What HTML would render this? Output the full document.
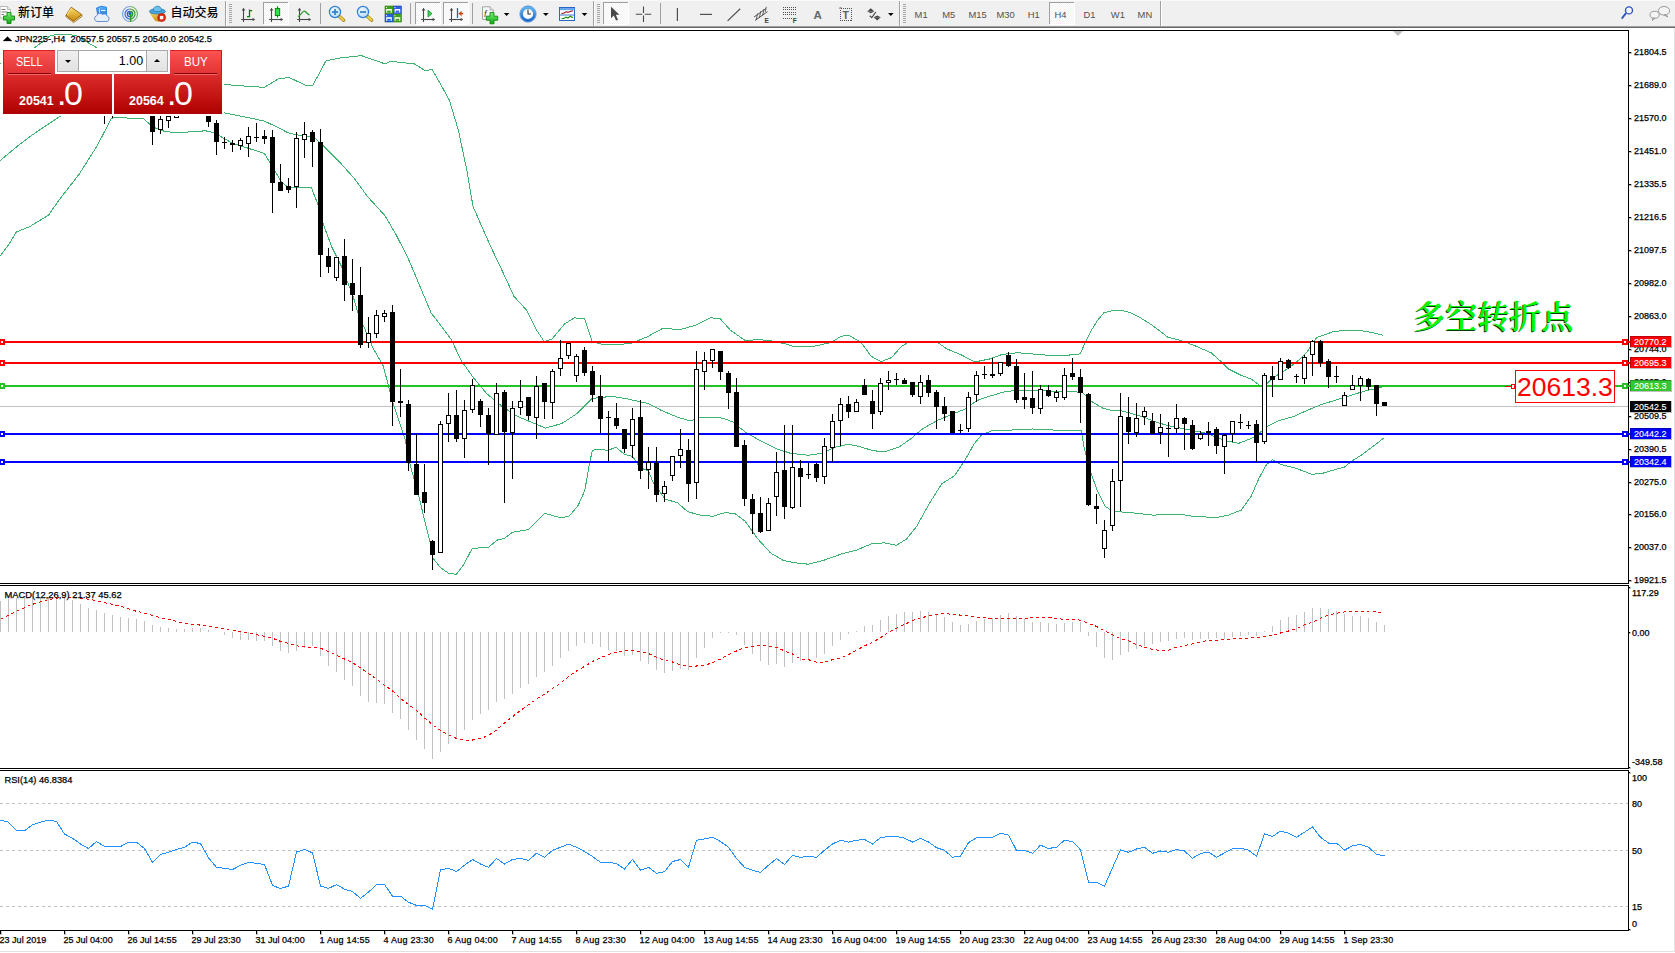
<!DOCTYPE html>
<html><head><meta charset="utf-8"><title>JPN225 H4</title>
<style>
html,body{margin:0;padding:0;background:#fff;}
body{width:1675px;height:953px;position:relative;overflow:hidden;font-family:"Liberation Sans","Noto Sans CJK SC",sans-serif;}
#tb{position:absolute;left:0;top:0;width:1675px;height:26px;background:#f0f0f0;border-bottom:1px solid #a0a0a0;box-shadow:0 1px 0 #696969;}
#tb2{position:absolute;left:0;top:28px;width:1675px;height:2px;background:#fff;}
#edge-r{position:absolute;left:1674px;top:28px;width:1px;height:924px;background:#e2e2e2;}
#edge-b{position:absolute;left:0;top:951px;width:1675px;height:1px;background:#e2e2e2;}
#tb{font-family:"Liberation Sans","Noto Sans CJK SC",sans-serif;}
#tb svg text{font-family:"Liberation Sans","Noto Sans CJK SC",sans-serif;}

#oct{position:absolute;left:3px;top:50px;width:219px;height:64px;font-family:"Liberation Sans",sans-serif;}
#oct .wbg{position:absolute;left:-2px;top:-2px;width:223px;height:68px;background:#fff;}
#oct .pb{position:absolute;top:24px;height:40px;background:linear-gradient(#dc2c2c,#c41414 55%,#ae0000);}
#oct .sellp{left:0;width:109px;}
#oct .buyp{left:111px;width:108px;}
#oct .bt{position:absolute;top:0;height:25px;width:52px;background:linear-gradient(#fb5252,#e03232);box-sizing:border-box;border-top:1px solid #d82020;color:#fff;font-size:12.5px;text-align:center;line-height:23px;}
#oct .sellb{left:0;border-left:1px solid #d01818;}
#oct .buyb{left:167px;border-right:1px solid #d01818;}
#oct .bt i{position:absolute;left:4px;right:4px;top:22px;height:1px;background:#8a0000;box-shadow:0 1px 0 #f06a6a;}
#oct .gapw{position:absolute;left:52px;top:0;width:115px;height:24px;background:#fff;}
#oct .gapv{position:absolute;left:109px;top:24px;width:2px;height:40px;background:#fff;}
#oct .bt span{display:inline-block;transform-origin:50% 50%;}
#oct .sellb span{transform:scaleX(.87);}
#oct .buyb span{transform:scaleX(.93);}
#oct .vol{position:absolute;left:54px;top:0;width:111px;height:22px;box-sizing:border-box;border:1px solid #a9a9a9;background:#fff;}
#oct .va{position:absolute;top:0;width:20px;height:20px;background:linear-gradient(#f0f0f0,#e2e2e2);}
#oct .va.l{left:0;border-right:1px solid #a9a9a9;}
#oct .va.r{right:0;border-left:1px solid #a9a9a9;}
#oct .va b{position:absolute;left:7px;width:0;height:0;border-left:3px solid transparent;border-right:3px solid transparent;}
#oct .va b.dn{top:9px;border-top:3px solid #000;}
#oct .va b.up{top:8px;border-bottom:3px solid #000;}
#oct .vi{position:absolute;left:21px;right:23.8px;top:0;height:20px;line-height:21px;text-align:right;font-size:12.5px;color:#000;}
#oct .pr{position:absolute;top:24px;height:40px;color:#fff;white-space:nowrap;}
#oct .pr span{position:absolute;bottom:0;}
#oct .pr .s{left:0;font-weight:bold;font-size:12.5px;bottom:6px;}
#oct .pr .d{left:38px;font-size:34px;bottom:1px;}
#oct .pr .g{left:45px;font-size:34px;bottom:1px;}

</style></head><body>
<div id="tb"><svg width="1675" height="27" viewBox="0 0 1675 27" style="position:absolute;left:0;top:0">
<defs>
<pattern id="chk" width="2" height="2" patternUnits="userSpaceOnUse"><rect width="2" height="2" fill="#f4f4f4"/><rect width="1" height="1" fill="#fff"/><rect x="1" y="1" width="1" height="1" fill="#fff"/></pattern>
<linearGradient id="gy" x1="0" y1="0" x2="0" y2="1"><stop offset="0" stop-color="#f7dc6a"/><stop offset="1" stop-color="#c98a10"/></linearGradient>
<linearGradient id="gg" x1="0" y1="0" x2="0" y2="1"><stop offset="0" stop-color="#7af07a"/><stop offset="1" stop-color="#12a812"/></linearGradient>
<linearGradient id="gb" x1="0" y1="0" x2="0" y2="1"><stop offset="0" stop-color="#5ab4f4"/><stop offset="1" stop-color="#1c6cd0"/></linearGradient>
<radialGradient id="lens" cx="0.4" cy="0.35" r="0.7"><stop offset="0" stop-color="#f2faff"/><stop offset="1" stop-color="#b4d8f4"/></radialGradient>
</defs>
<rect x="0" y="0" width="1675" height="1" fill="#fafafa"/>
<path d="M0 6.5H7.5L10.5 9.5V18H0z" fill="#fff" stroke="#b8b8b8" stroke-width="1"/>
<path d="M7.5 6.5V9.5H10.5" fill="#e8e8e8" stroke="#b0b0b0" stroke-width=".8"/>
<path d="M1.5 9.5H5.5M1.5 12H7.5M1.5 14.5H4" stroke="#808080" stroke-width="1.1"/>
<path d="M7 12.5h4v3.5h3.5v4h-3.5v3.5h-4v-3.5h-3.5v-4h3.5z" fill="url(#gg)" stroke="#0a8a0a" stroke-width=".9"/>
<text x="18" y="17" font-size="12px" font-weight="500" fill="#000">新订单</text>
<path d="M66 15.2L73.4 21L81.8 14.6L82 16.4L73.6 22.6L65.8 16.6z" fill="#f1e4b0" stroke="#9a6408" stroke-width=".8"/>
<path d="M71.2 7.2L81.8 14.6L73.4 21L66 15.2z" fill="url(#gy)" stroke="#9a6408" stroke-width=".9"/>
<path d="M71.4 8.4L69 11.6L67.2 15" stroke="#fff1a8" stroke-width="1" fill="none" opacity=".8"/>
<path d="M96.5 8L101 6.2L106.5 7.2V17H98z" fill="url(#gb)" stroke="#1a78e0" stroke-width=".8"/>
<path d="M99.5 8.5V17" stroke="#bfe4ff" stroke-width="1"/><path d="M101 10.5H105.5" stroke="#e8f6ff" stroke-width="1.2"/>
<path d="M97 21.5a3 3 0 0 1 -.4 -5.8a3.6 3.6 0 0 1 6 -1.3a3 3 0 0 1 4.6 1.6a2.9 2.9 0 0 1 -.2 5.5z" fill="#e6eef8" stroke="#5a86c6" stroke-width=".9"/>
<g fill="none" stroke-width="1.2"><path d="M130 6.5a7.5 7.5 0 0 0 0 15" stroke="#5a8ae0" opacity=".75"/><path d="M130 6.5a7.5 7.5 0 0 1 0 15" stroke="#4aa44a" opacity=".75"/>
<path d="M130 9a5 5 0 0 0 0 10" stroke="#3c70d8"/><path d="M130 9a5 5 0 0 1 0 10" stroke="#3c9c3c"/>
<path d="M130 11.3a2.7 2.7 0 0 0 0 5.4" stroke="#2c5cd0"/><path d="M130 11.3a2.7 2.7 0 0 1 0 5.4" stroke="#2c8c2c"/></g>
<circle cx="130" cy="13.6" r="1.6" fill="#2a56cc"/><path d="M130.6 14V21.5" stroke="#22a022" stroke-width="1.6"/>
<path d="M150.2 12.6L164.6 12.6L159 21.4L155.2 20.6z" fill="url(#gy)" stroke="#d4a418" stroke-width=".7"/>
<ellipse cx="157.4" cy="11.4" rx="8" ry="2.7" fill="#4aa4dc" stroke="#2a7eb8" stroke-width=".8"/>
<path d="M153.2 10.8C153.4 7.6 155 6.2 157.4 6.2S161.4 7.6 161.6 10.8C160 11.8 154.8 11.8 153.2 10.8z" fill="#6cc0ec" stroke="#2a7eb8" stroke-width=".8"/>
<circle cx="161.6" cy="17.6" r="4" fill="#e02810" stroke="#b01c08" stroke-width=".6"/><rect x="159.9" y="15.9" width="3.4" height="3.4" fill="#fff"/>
<text x="170.5" y="17" font-size="12px" font-weight="500" fill="#000">自动交易</text>
<rect x="225" y="1" width="1" height="25" fill="#a0a0a0" shape-rendering="crispEdges"/>
<rect x="226" y="1" width="1" height="25" fill="#fff" shape-rendering="crispEdges"/>
<rect x="229" y="4" width="3" height="1" fill="#a8a8a8" shape-rendering="crispEdges"/>
<rect x="229" y="6" width="3" height="1" fill="#a8a8a8" shape-rendering="crispEdges"/>
<rect x="229" y="8" width="3" height="1" fill="#a8a8a8" shape-rendering="crispEdges"/>
<rect x="229" y="10" width="3" height="1" fill="#a8a8a8" shape-rendering="crispEdges"/>
<rect x="229" y="12" width="3" height="1" fill="#a8a8a8" shape-rendering="crispEdges"/>
<rect x="229" y="14" width="3" height="1" fill="#a8a8a8" shape-rendering="crispEdges"/>
<rect x="229" y="16" width="3" height="1" fill="#a8a8a8" shape-rendering="crispEdges"/>
<rect x="229" y="18" width="3" height="1" fill="#a8a8a8" shape-rendering="crispEdges"/>
<rect x="229" y="20" width="3" height="1" fill="#a8a8a8" shape-rendering="crispEdges"/>
<rect x="229" y="22" width="3" height="1" fill="#a8a8a8" shape-rendering="crispEdges"/>
<g stroke="#484848" stroke-width="1.1" fill="#484848"><path d="M243.5 9V22" fill="none"/><path d="M241.2 19.5H253" fill="none"/><path d="M243.5 7.8l-1.8 2.6h3.6z" stroke="none"/><path d="M255.2 19.5l-2.6 -1.8v3.6z" stroke="none"/></g>
<path d="M249.5 9.5V17.2M249.5 10.7H252.2M247 16.6H249.5" stroke="#008000" stroke-width="1.3" fill="none"/>
<rect x="263" y="2" width="25" height="22" fill="url(#chk)" shape-rendering="crispEdges"/>
<path d="M263.5 24V2.5H288" fill="none" stroke="#a0a0a0" shape-rendering="crispEdges"/>
<path d="M263.5 24.5H288.5V2" fill="none" stroke="#fff" shape-rendering="crispEdges"/>
<g stroke="#484848" stroke-width="1.1" fill="#484848"><path d="M271.5 9V22" fill="none"/><path d="M269.2 19.5H281" fill="none"/><path d="M271.5 7.8l-1.8 2.6h3.6z" stroke="none"/><path d="M283.2 19.5l-2.6 -1.8v3.6z" stroke="none"/></g>
<path d="M277.5 6.3V17.6" stroke="#008000" stroke-width="1.1"/><rect x="275.3" y="8.6" width="4.4" height="7" fill="#30e050" stroke="#008000" stroke-width=".9"/>
<g stroke="#484848" stroke-width="1.1" fill="#484848"><path d="M299.5 9V22" fill="none"/><path d="M297.2 19.5H309" fill="none"/><path d="M299.5 7.8l-1.8 2.6h3.6z" stroke="none"/><path d="M311.2 19.5l-2.6 -1.8v3.6z" stroke="none"/></g>
<path d="M298 16.8C300.5 15.5 302.5 11 304.3 11.2S307.5 14.5 309.6 15" stroke="#2a982a" stroke-width="1.2" fill="none"/>
<rect x="320" y="3" width="1" height="21" fill="#a0a0a0" shape-rendering="crispEdges"/>
<path d="M339 16l4.7 4.2" stroke="#b08a10" stroke-width="3.4" stroke-linecap="round"/><path d="M339 16l4.5 4" stroke="#ecd24a" stroke-width="1.8" stroke-linecap="round"/>
<circle cx="335" cy="12" r="5.6" fill="url(#lens)" stroke="#2f80d8" stroke-width="1.2"/>
<path d="M332 12h6" stroke="#3a84c4" stroke-width="1.8"/>
<path d="M335 9v6" stroke="#3a84c4" stroke-width="1.8"/>
<path d="M367 16l4.7 4.2" stroke="#b08a10" stroke-width="3.4" stroke-linecap="round"/><path d="M367 16l4.5 4" stroke="#ecd24a" stroke-width="1.8" stroke-linecap="round"/>
<circle cx="363" cy="12" r="5.6" fill="url(#lens)" stroke="#2f80d8" stroke-width="1.2"/>
<path d="M360 12h6" stroke="#3a84c4" stroke-width="1.8"/>
<rect x="385" y="6" width="8" height="7.8" fill="#3fa020" stroke="#2c8410" stroke-width=".6"/>
<rect x="386.2" y="9" width="5.6" height="3.6" fill="#fff"/><rect x="387.2" y="10.6" width="3.6" height="2" fill="#3fa020"/><rect x="386" y="7" width="1" height="1" fill="#fff"/>
<rect x="393.4" y="6" width="8" height="7.8" fill="#2a60d8" stroke="#1844b8" stroke-width=".6"/>
<rect x="394.59999999999997" y="9" width="5.6" height="3.6" fill="#fff"/><rect x="395.59999999999997" y="10.6" width="3.6" height="2" fill="#2a60d8"/><rect x="394.4" y="7" width="1" height="1" fill="#fff"/>
<rect x="385" y="14.2" width="8" height="7.8" fill="#2a60d8" stroke="#1844b8" stroke-width=".6"/>
<rect x="386.2" y="17.2" width="5.6" height="3.6" fill="#fff"/><rect x="387.2" y="18.799999999999997" width="3.6" height="2" fill="#2a60d8"/><rect x="386" y="15.2" width="1" height="1" fill="#fff"/>
<rect x="393.4" y="14.2" width="8" height="7.8" fill="#3fa020" stroke="#2c8410" stroke-width=".6"/>
<rect x="394.59999999999997" y="17.2" width="5.6" height="3.6" fill="#fff"/><rect x="395.59999999999997" y="18.799999999999997" width="3.6" height="2" fill="#3fa020"/><rect x="394.4" y="15.2" width="1" height="1" fill="#fff"/>
<rect x="410" y="3" width="1" height="21" fill="#a0a0a0" shape-rendering="crispEdges"/>
<rect x="415" y="2" width="25" height="22" fill="url(#chk)" shape-rendering="crispEdges"/>
<path d="M415.5 24V2.5H440" fill="none" stroke="#a0a0a0" shape-rendering="crispEdges"/>
<path d="M415.5 24.5H440.5V2" fill="none" stroke="#fff" shape-rendering="crispEdges"/>
<g stroke="#484848" stroke-width="1.1" fill="#484848"><path d="M423.5 9V22" fill="none"/><path d="M421.2 19.5H433" fill="none"/><path d="M423.5 7.8l-1.8 2.6h3.6z" stroke="none"/><path d="M435.2 19.5l-2.6 -1.8v3.6z" stroke="none"/></g>
<path d="M428 10.2V17L432 13.6z" fill="#38d050" stroke="#189030" stroke-width=".8"/>
<rect x="443" y="2" width="25" height="22" fill="url(#chk)" shape-rendering="crispEdges"/>
<path d="M443.5 24V2.5H468" fill="none" stroke="#a0a0a0" shape-rendering="crispEdges"/>
<path d="M443.5 24.5H468.5V2" fill="none" stroke="#fff" shape-rendering="crispEdges"/>
<g stroke="#484848" stroke-width="1.1" fill="#484848"><path d="M451.5 9V22" fill="none"/><path d="M449.2 19.5H461" fill="none"/><path d="M451.5 7.8l-1.8 2.6h3.6z" stroke="none"/><path d="M463.2 19.5l-2.6 -1.8v3.6z" stroke="none"/></g>
<path d="M457.5 8V18" stroke="#1c6a9c" stroke-width="1.3"/><path d="M458.6 13.6l3 -2.2l-.6 1.7h2v1h-2l.6 1.7z" fill="#d04000" stroke="#d04000" stroke-width=".5"/>
<rect x="472" y="3" width="1" height="21" fill="#a0a0a0" shape-rendering="crispEdges"/>
<path d="M482.5 6.8H490L493.2 10V19.4H482.5z" fill="#fafafa" stroke="#9a9a9a" stroke-width=".9"/><path d="M490 6.8V10H493.2" fill="#e4e4e4" stroke="#9a9a9a" stroke-width=".7"/>
<text x="484" y="16.5" font-size="9px" font-style="italic" fill="#404040" font-family="Liberation Serif, serif">f</text>
<path d="M490 12.6h4v3.6h3.7v4h-3.7v3.6h-4v-3.6h-3.7v-4h3.7z" fill="url(#gg)" stroke="#0a8a0a" stroke-width=".9"/>
<path d="M503.8 13 h5.6 l-2.8 3z" fill="#000"/>
<circle cx="528" cy="14" r="6.5" fill="#fdfdfd" stroke="url(#gb)" stroke-width="2.8"/><circle cx="528" cy="14" r="8.2" fill="none" stroke="#1858b8" stroke-width=".5"/>
<path d="M528 9.5V14H531" stroke="#303030" stroke-width="1.1" fill="none"/><g fill="#808080"><rect x="527.6" y="8.2" width=".9" height=".9"/><rect x="527.6" y="19" width=".9" height=".9"/><rect x="522.4" y="13.6" width=".9" height=".9"/><rect x="533" y="13.6" width=".9" height=".9"/></g>
<path d="M543 13 h5.6 l-2.8 3z" fill="#000"/>
<rect x="559.5" y="7.5" width="15" height="13" fill="#fff" stroke="#2a66c8" stroke-width="1"/><rect x="560" y="8" width="14.5" height="2.2" fill="#6aa8ec"/><path d="M560 15H574.5" stroke="#2a66c8" stroke-width=".9"/>
<path d="M561.5 13.6l2.5 -.6l2 -1.2l2 .6l2 -1l3 -.6" stroke="#a01818" stroke-width="1.1" fill="none"/><path d="M561.5 18.8l2.5 -.4l2 -1.2l2 .8l2.3 -1.8l2.7 1.6" stroke="#189018" stroke-width="1.1" fill="none"/>
<path d="M581.7 13 h5.6 l-2.8 3z" fill="#000"/>
<rect x="593" y="1" width="1" height="25" fill="#a0a0a0" shape-rendering="crispEdges"/>
<rect x="594" y="1" width="1" height="25" fill="#fff" shape-rendering="crispEdges"/>
<rect x="597" y="4" width="3" height="1" fill="#a8a8a8" shape-rendering="crispEdges"/>
<rect x="597" y="6" width="3" height="1" fill="#a8a8a8" shape-rendering="crispEdges"/>
<rect x="597" y="8" width="3" height="1" fill="#a8a8a8" shape-rendering="crispEdges"/>
<rect x="597" y="10" width="3" height="1" fill="#a8a8a8" shape-rendering="crispEdges"/>
<rect x="597" y="12" width="3" height="1" fill="#a8a8a8" shape-rendering="crispEdges"/>
<rect x="597" y="14" width="3" height="1" fill="#a8a8a8" shape-rendering="crispEdges"/>
<rect x="597" y="16" width="3" height="1" fill="#a8a8a8" shape-rendering="crispEdges"/>
<rect x="597" y="18" width="3" height="1" fill="#a8a8a8" shape-rendering="crispEdges"/>
<rect x="597" y="20" width="3" height="1" fill="#a8a8a8" shape-rendering="crispEdges"/>
<rect x="597" y="22" width="3" height="1" fill="#a8a8a8" shape-rendering="crispEdges"/>
<rect x="603" y="2" width="25" height="22" fill="url(#chk)" shape-rendering="crispEdges"/>
<path d="M603.5 24V2.5H628" fill="none" stroke="#a0a0a0" shape-rendering="crispEdges"/>
<path d="M603.5 24.5H628.5V2" fill="none" stroke="#fff" shape-rendering="crispEdges"/>
<path d="M611 6.8V18.2L613.8 15.6L616 20.6L618 19.7L615.8 14.8H619.4z" fill="#484848"/>
<g stroke="#484848" stroke-width="1.1" fill="none"><path d="M643.5 6.6V13M643.5 15.6V22M635.8 14.3H642.2M644.8 14.3H651.2"/></g>
<rect x="660" y="3" width="1" height="21" fill="#a0a0a0" shape-rendering="crispEdges"/>
<g stroke="#505050" stroke-width="1.2" fill="none"><path d="M677.4 8V21"/><path d="M700 14.4H712"/><path d="M727.6 20.9L740.2 8.7"/></g>
<g stroke="#505050" stroke-width="1" fill="none"><path d="M754 17L766 8.5M755 20.5L767.5 11.6"/><path d="M757.6 13.5l-1.4 6.5M760.8 11.2l-1.5 6.8M764 9l-1.4 6.6M766.3 6.8l-1 5" stroke-width=".9"/></g>
<text x="764.6" y="22.8" font-size="6.5px" font-weight="bold" fill="#404040">E</text>
<g stroke="#505050" stroke-width="1" stroke-dasharray="1 1" fill="none" shape-rendering="crispEdges"><path d="M783 7.5H796M783 9.5H796M783 12.5H796M783 14.5H796M783 18.5H792"/></g>
<text x="792.8" y="22.8" font-size="6.5px" font-weight="bold" fill="#404040">F</text>
<text x="813.6" y="18.6" font-size="11.6px" font-weight="bold" fill="#686868">A</text>
<rect x="840.5" y="8.5" width="11" height="12" fill="none" stroke="#505050" stroke-width="1" stroke-dasharray="1 1" shape-rendering="crispEdges"/><path d="M839.5 7.5h2.5l-2.5 1.6z" fill="#404040"/>
<text x="842.6" y="18.8" font-size="10.5px" font-weight="bold" fill="#606060">T</text>
<path d="M870.8 8.2l3.6 3.2h-7.2z" fill="#484848"/><path d="M867.2 11.4h7.2l-3.6 1.8z" fill="#484848"/><path d="M877.2 20.4l3.6 -3.2h-7.2z" fill="#484848"/><path d="M873.6 17.2h7.2l-3.6 -1.6z" fill="#484848"/><path d="M869.8 15.8l2 1.8l4 -5.6" stroke="#484848" stroke-width="1.2" fill="none"/>
<path d="M888 13 h5.6 l-2.8 3z" fill="#000"/>
<rect x="899" y="1" width="1" height="25" fill="#a0a0a0" shape-rendering="crispEdges"/>
<rect x="900" y="1" width="1" height="25" fill="#fff" shape-rendering="crispEdges"/>
<rect x="903" y="4" width="3" height="1" fill="#a8a8a8" shape-rendering="crispEdges"/>
<rect x="903" y="6" width="3" height="1" fill="#a8a8a8" shape-rendering="crispEdges"/>
<rect x="903" y="8" width="3" height="1" fill="#a8a8a8" shape-rendering="crispEdges"/>
<rect x="903" y="10" width="3" height="1" fill="#a8a8a8" shape-rendering="crispEdges"/>
<rect x="903" y="12" width="3" height="1" fill="#a8a8a8" shape-rendering="crispEdges"/>
<rect x="903" y="14" width="3" height="1" fill="#a8a8a8" shape-rendering="crispEdges"/>
<rect x="903" y="16" width="3" height="1" fill="#a8a8a8" shape-rendering="crispEdges"/>
<rect x="903" y="18" width="3" height="1" fill="#a8a8a8" shape-rendering="crispEdges"/>
<rect x="903" y="20" width="3" height="1" fill="#a8a8a8" shape-rendering="crispEdges"/>
<rect x="903" y="22" width="3" height="1" fill="#a8a8a8" shape-rendering="crispEdges"/>
<rect x="1049" y="2" width="25" height="22" fill="url(#chk)" shape-rendering="crispEdges"/>
<path d="M1049.5 24V2.5H1074" fill="none" stroke="#a0a0a0" shape-rendering="crispEdges"/>
<path d="M1049.5 24.5H1074.5V2" fill="none" stroke="#fff" shape-rendering="crispEdges"/>
<g font-size="9.4px" fill="#505050">
<text x="914.6" y="17.6">M1</text>
<text x="942.2" y="17.6">M5</text>
<text x="968.4" y="17.6">M15</text>
<text x="996.4" y="17.6">M30</text>
<text x="1027.8" y="17.6">H1</text>
<text x="1054.6" y="17.6">H4</text>
<text x="1083.5" y="17.6">D1</text>
<text x="1110.8" y="17.6">W1</text>
<text x="1137.6" y="17.6">MN</text>
</g>
<rect x="1160" y="1" width="1" height="25" fill="#a0a0a0" shape-rendering="crispEdges"/>
<rect x="1161" y="1" width="1" height="25" fill="#fff" shape-rendering="crispEdges"/>
<path d="M1625.6 13.6l-3.4 4.4" stroke="#2a56c0" stroke-width="2" stroke-linecap="round"/><circle cx="1629" cy="10.4" r="3.5" fill="#f4f8ff" stroke="#2a56c0" stroke-width="1.4"/>
<g fill="#f4f4f4" stroke="#909090" stroke-width=".9"><ellipse cx="1664" cy="10.8" rx="5.6" ry="4.3"/><path d="M1666 14.6l1.8 2.4l-3.6 -2z"/><ellipse cx="1654.6" cy="14.8" rx="4.6" ry="3.5"/><path d="M1653 18l-.6 2.4l2.6 -2.2z"/></g>
</svg></div><div id="tb2"></div>
<svg id="chart" width="1675" height="953" viewBox="0 0 1675 953" style="position:absolute;left:0;top:0">
<defs><clipPath id="cm"><rect x="0" y="31" width="1628" height="552"/></clipPath></defs>
<g shape-rendering="crispEdges" stroke="#000" stroke-width="1" fill="none">
<path d="M0 30.5H1629"/>
<path d="M1628.5 30V584"/>
<path d="M0 583.5H1629"/>
<path d="M0 585.5H1629"/>
<path d="M1628.5 585V769"/>
<path d="M0 768.5H1629"/>
<path d="M0 770.5H1629"/>
<path d="M1628.5 770V931"/>
<path d="M0 930.5H1629"/>
</g>
<path d="M0 406.5H1628" stroke="#c0c0c0" stroke-width="1" shape-rendering="crispEdges"/>
<g clip-path="url(#cm)" fill="none" stroke="#3cb371" stroke-width="1" shape-rendering="crispEdges">
<path d="M0.0 64.0 L33.0 50.0 L35.0 47.3 L43.0 41.6 L50.0 35.9 L57.0 34.4 L69.0 34.4 L77.0 35.9 L86.0 41.6 L96.0 47.3 L99.0 50.0 L140.0 70.0 L180.0 80.0 L221.8 84.3 L252.6 86.7 L264.4 87.3 L279.0 78.5 L289.4 77.6 L305.5 85.2 L312.9 85.2 L326.0 60.8 L340.8 57.9 L361.3 55.6 L384.8 63.8 L390.7 61.4 L414.2 63.8 L426.0 71.1 L431.8 69.1 L440.7 84.3 L449.5 100.5 L458.3 129.9 L467.0 171.0 L473.0 206.3 L480.0 222.4 L490.0 245.0 L506.5 280.0 L514.0 296.4 L526.6 310.2 L536.7 330.4 L544.3 341.7 L551.8 339.2 L564.4 324.1 L574.5 317.8 L584.6 319.0 L592.1 341.7 L602.2 344.2 L614.8 345.0 L632.4 343.0 L647.5 336.7 L662.6 328.4 L680.3 329.6 L695.4 325.3 L710.5 317.8 L720.0 318.5 L730.2 330.0 L745.3 340.6 L757.9 339.6 L770.5 340.6 L785.6 343.9 L793.2 346.4 L813.3 346.4 L831.0 342.6 L841.0 336.3 L848.6 335.0 L861.2 342.6 L871.2 356.4 L881.3 361.5 L891.4 357.7 L901.5 346.4 L909.0 341.8 L936.7 341.8 L946.8 348.9 L961.9 355.2 L974.5 362.0 L989.6 359.0 L1002.2 354.4 L1017.3 352.7 L1037.4 354.4 L1055.1 355.9 L1067.7 355.2 L1080.3 353.9 L1085.0 343.0 L1091.3 330.4 L1097.6 320.3 L1103.9 312.7 L1112.7 310.7 L1121.5 310.2 L1130.4 312.7 L1140.4 317.8 L1150.5 324.1 L1160.6 331.6 L1168.1 337.4 L1180.7 340.4 L1193.3 345.1 L1211.0 352.7 L1221.0 361.5 L1228.6 369.0 L1241.2 375.3 L1251.2 379.1 L1261.3 386.7 L1266.4 384.0 L1272.6 377.8 L1281.5 372.8 L1294.0 364.0 L1301.6 357.7 L1306.6 352.7 L1316.7 337.6 L1334.3 331.3 L1357.0 330.0 L1372.1 332.5 L1383.5 335.5"/>
<path d="M0.0 160.7 L17.6 146.0 L35.3 132.8 L61.7 115.2 L100.0 100.0 L180.0 105.0 L221.8 112.3 L243.8 116.7 L264.4 121.1 L280.0 128.5 L287.7 132.7 L300.0 135.5 L314.6 137.8 L323.0 145.3 L338.1 160.4 L353.2 177.2 L368.3 197.4 L385.1 215.8 L396.8 236.0 L408.6 259.5 L417.2 279.7 L431.0 312.7 L451.1 339.2 L461.2 360.6 L473.8 378.2 L486.4 393.3 L501.5 405.9 L516.6 416.0 L531.7 422.3 L545.5 428.1 L561.9 423.5 L577.0 413.5 L592.1 398.4 L612.3 396.3 L627.4 398.9 L647.5 403.4 L662.6 411.0 L677.7 417.2 L690.3 421.0 L697.9 418.0 L710.0 417.4 L722.7 418.1 L732.7 421.9 L745.3 432.0 L757.9 439.5 L775.5 448.4 L790.7 453.4 L808.3 455.2 L820.9 453.4 L836.0 447.1 L848.6 444.1 L861.2 447.1 L873.8 450.9 L886.3 451.4 L898.9 447.1 L911.5 438.3 L921.6 429.5 L936.7 420.7 L951.8 414.4 L964.4 409.3 L977.0 400.5 L989.6 396.2 L1004.7 391.7 L1017.3 390.4 L1037.4 390.4 L1052.6 391.2 L1067.7 391.2 L1082.8 392.5 L1090.1 400.5 L1102.7 408.1 L1112.7 410.6 L1120.3 410.6 L1130.4 413.1 L1143.0 416.9 L1155.5 421.9 L1168.1 425.7 L1180.7 428.2 L1193.3 430.7 L1205.9 433.2 L1216.0 437.0 L1226.1 440.8 L1238.7 443.3 L1248.7 439.5 L1256.3 435.8 L1266.4 427.0 L1278.9 420.7 L1294.0 416.4 L1306.6 410.6 L1321.8 404.3 L1336.9 399.8 L1352.0 395.0 L1367.1 390.4 L1377.2 388.4 L1383.5 386.7"/>
<path d="M0.0 256.2 L8.8 244.5 L16.2 232.1 L29.4 226.8 L48.5 215.1 L58.8 200.4 L79.3 174.0 L97.0 146.0 L111.6 118.1 L117.5 117.5 L144.0 119.0 L152.8 127.0 L164.5 131.4 L176.3 132.8 L205.6 130.8 L214.5 132.8 L232.0 143.1 L264.4 153.4 L273.2 168.1 L282.0 182.8 L289.4 187.8 L311.4 187.8 L318.7 206.3 L323.2 223.9 L332.0 247.4 L340.8 265.0 L352.5 294.4 L357.9 312.7 L373.0 348.0 L383.1 365.6 L393.2 403.4 L405.2 440.0 L410.2 465.2 L418.6 495.4 L430.4 544.0 L432.5 557.5 L440.4 567.6 L448.8 573.5 L456.4 574.3 L463.9 564.2 L472.3 548.3 L488.3 547.4 L497.5 539.9 L504.2 538.5 L512.6 532.3 L528.6 529.5 L544.5 513.4 L560.5 517.6 L568.9 516.4 L578.1 505.5 L584.8 490.4 L589.8 461.8 L592.4 450.4 L598.2 449.2 L608.3 450.4 L615.9 447.0 L624.2 454.3 L632.6 456.3 L640.2 467.7 L648.6 471.0 L652.6 481.5 L665.1 499.1 L677.7 502.9 L687.8 511.7 L700.0 515.1 L712.6 516.3 L725.2 512.6 L735.3 513.8 L745.3 521.4 L757.9 539.0 L770.5 552.9 L783.1 560.4 L795.7 562.9 L808.3 564.2 L823.4 560.4 L841.0 554.1 L856.1 550.3 L871.2 544.0 L883.8 542.8 L896.4 545.3 L906.5 539.0 L916.6 526.4 L929.2 503.8 L941.8 483.6 L954.3 476.0 L964.4 461.0 L974.5 443.3 L982.0 434.5 L992.1 430.7 L1012.3 430.0 L1032.4 429.0 L1052.6 430.0 L1072.7 430.7 L1081.5 430.7 L1083.8 445.8 L1090.1 471.0 L1097.6 491.2 L1105.2 506.3 L1112.7 511.3 L1130.4 512.6 L1153.0 515.1 L1180.7 514.3 L1193.3 516.3 L1216.0 517.6 L1228.6 515.1 L1241.2 510.1 L1251.2 496.2 L1258.8 478.6 L1266.4 464.7 L1272.6 459.7 L1281.5 464.7 L1296.6 468.5 L1311.7 474.3 L1321.8 473.5 L1334.3 469.8 L1344.4 467.2 L1352.0 461.0 L1362.0 454.7 L1372.1 447.1 L1383.5 438.3"/>
</g>
<g shape-rendering="crispEdges">
<rect x="0" y="341" width="1628" height="2" fill="#ff0000"/>
<rect x="0" y="362" width="1628" height="2" fill="#ff0000"/>
<rect x="0" y="385" width="1628" height="2" fill="#22c322"/>
<rect x="0" y="433" width="1628" height="2" fill="#0000ff"/>
<rect x="0" y="461" width="1628" height="2" fill="#0000ff"/>
</g>
<g shape-rendering="crispEdges" clip-path="url(#cm)">
<rect x="104" y="116" width="1" height="8" fill="#000"/>
<rect x="112" y="116" width="1" height="2" fill="#000"/>
<rect x="152" y="115" width="1" height="30" fill="#000"/>
<rect x="150" y="115" width="5" height="17" fill="#000"/>
<rect x="160" y="116" width="1" height="18" fill="#000"/>
<rect x="158" y="119" width="5" height="11" fill="#000"/>
<rect x="159" y="120" width="3" height="9" fill="#fff"/>
<rect x="168" y="115" width="1" height="13" fill="#000"/>
<rect x="166" y="116" width="5" height="5" fill="#000"/>
<rect x="167" y="117" width="3" height="3" fill="#fff"/>
<rect x="176" y="100" width="1" height="18" fill="#000"/>
<rect x="174" y="100" width="5" height="18" fill="#000"/>
<rect x="175" y="101" width="3" height="16" fill="#fff"/>
<rect x="208" y="115" width="1" height="12" fill="#000"/>
<rect x="206" y="115" width="5" height="7" fill="#000"/>
<rect x="216" y="120" width="1" height="35" fill="#000"/>
<rect x="214" y="123" width="5" height="19" fill="#000"/>
<rect x="224" y="137" width="1" height="12" fill="#000"/>
<rect x="222" y="142" width="5" height="1" fill="#000"/>
<rect x="232" y="140" width="1" height="12" fill="#000"/>
<rect x="230" y="143" width="5" height="2" fill="#000"/>
<rect x="240" y="138" width="1" height="12" fill="#000"/>
<rect x="238" y="140" width="5" height="6" fill="#000"/>
<rect x="239" y="141" width="3" height="4" fill="#fff"/>
<rect x="248" y="127" width="1" height="30" fill="#000"/>
<rect x="246" y="136" width="5" height="8" fill="#000"/>
<rect x="247" y="137" width="3" height="6" fill="#fff"/>
<rect x="256" y="123" width="1" height="19" fill="#000"/>
<rect x="254" y="137" width="5" height="1" fill="#000"/>
<rect x="264" y="130" width="1" height="14" fill="#000"/>
<rect x="262" y="136" width="5" height="3" fill="#000"/>
<rect x="272" y="130" width="1" height="83" fill="#000"/>
<rect x="270" y="137" width="5" height="46" fill="#000"/>
<rect x="280" y="164" width="1" height="27" fill="#000"/>
<rect x="278" y="182" width="5" height="9" fill="#000"/>
<rect x="288" y="178" width="1" height="15" fill="#000"/>
<rect x="286" y="186" width="5" height="4" fill="#000"/>
<rect x="296" y="132" width="1" height="76" fill="#000"/>
<rect x="294" y="138" width="5" height="49" fill="#000"/>
<rect x="295" y="139" width="3" height="47" fill="#fff"/>
<rect x="304" y="122" width="1" height="36" fill="#000"/>
<rect x="302" y="134" width="5" height="6" fill="#000"/>
<rect x="303" y="135" width="3" height="4" fill="#fff"/>
<rect x="312" y="130" width="1" height="37" fill="#000"/>
<rect x="310" y="132" width="5" height="10" fill="#000"/>
<rect x="320" y="129" width="1" height="148" fill="#000"/>
<rect x="318" y="142" width="5" height="113" fill="#000"/>
<rect x="328" y="248" width="1" height="25" fill="#000"/>
<rect x="326" y="256" width="5" height="11" fill="#000"/>
<rect x="336" y="257" width="1" height="24" fill="#000"/>
<rect x="334" y="257" width="5" height="21" fill="#000"/>
<rect x="335" y="258" width="3" height="19" fill="#fff"/>
<rect x="344" y="239" width="1" height="62" fill="#000"/>
<rect x="342" y="256" width="5" height="29" fill="#000"/>
<rect x="352" y="259" width="1" height="52" fill="#000"/>
<rect x="350" y="283" width="5" height="12" fill="#000"/>
<rect x="360" y="267" width="1" height="81" fill="#000"/>
<rect x="358" y="295" width="5" height="50" fill="#000"/>
<rect x="368" y="317" width="1" height="31" fill="#000"/>
<rect x="366" y="333" width="5" height="10" fill="#000"/>
<rect x="367" y="334" width="3" height="8" fill="#fff"/>
<rect x="376" y="310" width="1" height="28" fill="#000"/>
<rect x="374" y="315" width="5" height="19" fill="#000"/>
<rect x="375" y="316" width="3" height="17" fill="#fff"/>
<rect x="384" y="310" width="1" height="12" fill="#000"/>
<rect x="382" y="313" width="5" height="4" fill="#000"/>
<rect x="383" y="314" width="3" height="2" fill="#fff"/>
<rect x="392" y="305" width="1" height="121" fill="#000"/>
<rect x="390" y="312" width="5" height="90" fill="#000"/>
<rect x="400" y="369" width="1" height="48" fill="#000"/>
<rect x="398" y="401" width="5" height="2" fill="#000"/>
<rect x="408" y="400" width="1" height="71" fill="#000"/>
<rect x="406" y="404" width="5" height="59" fill="#000"/>
<rect x="416" y="434" width="1" height="61" fill="#000"/>
<rect x="414" y="464" width="5" height="31" fill="#000"/>
<rect x="424" y="464" width="1" height="49" fill="#000"/>
<rect x="422" y="492" width="5" height="11" fill="#000"/>
<rect x="432" y="540" width="1" height="30" fill="#000"/>
<rect x="430" y="541" width="5" height="14" fill="#000"/>
<rect x="440" y="421" width="1" height="132" fill="#000"/>
<rect x="438" y="424" width="5" height="129" fill="#000"/>
<rect x="439" y="425" width="3" height="127" fill="#fff"/>
<rect x="448" y="393" width="1" height="49" fill="#000"/>
<rect x="446" y="415" width="5" height="9" fill="#000"/>
<rect x="447" y="416" width="3" height="7" fill="#fff"/>
<rect x="456" y="390" width="1" height="52" fill="#000"/>
<rect x="454" y="415" width="5" height="24" fill="#000"/>
<rect x="464" y="400" width="1" height="58" fill="#000"/>
<rect x="462" y="410" width="5" height="29" fill="#000"/>
<rect x="463" y="411" width="3" height="27" fill="#fff"/>
<rect x="472" y="379" width="1" height="34" fill="#000"/>
<rect x="470" y="385" width="5" height="25" fill="#000"/>
<rect x="471" y="386" width="3" height="23" fill="#fff"/>
<rect x="480" y="399" width="1" height="28" fill="#000"/>
<rect x="478" y="401" width="5" height="14" fill="#000"/>
<rect x="488" y="408" width="1" height="57" fill="#000"/>
<rect x="486" y="415" width="5" height="19" fill="#000"/>
<rect x="496" y="383" width="1" height="52" fill="#000"/>
<rect x="494" y="393" width="5" height="42" fill="#000"/>
<rect x="495" y="394" width="3" height="40" fill="#fff"/>
<rect x="504" y="390" width="1" height="113" fill="#000"/>
<rect x="502" y="392" width="5" height="40" fill="#000"/>
<rect x="512" y="401" width="1" height="78" fill="#000"/>
<rect x="510" y="408" width="5" height="25" fill="#000"/>
<rect x="511" y="409" width="3" height="23" fill="#fff"/>
<rect x="520" y="380" width="1" height="35" fill="#000"/>
<rect x="518" y="401" width="5" height="7" fill="#000"/>
<rect x="519" y="402" width="3" height="5" fill="#fff"/>
<rect x="528" y="397" width="1" height="23" fill="#000"/>
<rect x="526" y="397" width="5" height="19" fill="#000"/>
<rect x="536" y="376" width="1" height="63" fill="#000"/>
<rect x="534" y="386" width="5" height="32" fill="#000"/>
<rect x="535" y="387" width="3" height="30" fill="#fff"/>
<rect x="544" y="383" width="1" height="36" fill="#000"/>
<rect x="542" y="383" width="5" height="19" fill="#000"/>
<rect x="552" y="369" width="1" height="50" fill="#000"/>
<rect x="550" y="371" width="5" height="32" fill="#000"/>
<rect x="551" y="372" width="3" height="30" fill="#fff"/>
<rect x="560" y="340" width="1" height="36" fill="#000"/>
<rect x="558" y="358" width="5" height="11" fill="#000"/>
<rect x="559" y="359" width="3" height="9" fill="#fff"/>
<rect x="568" y="343" width="1" height="16" fill="#000"/>
<rect x="566" y="343" width="5" height="13" fill="#000"/>
<rect x="567" y="344" width="3" height="11" fill="#fff"/>
<rect x="576" y="354" width="1" height="28" fill="#000"/>
<rect x="574" y="356" width="5" height="20" fill="#000"/>
<rect x="575" y="357" width="3" height="18" fill="#fff"/>
<rect x="584" y="347" width="1" height="29" fill="#000"/>
<rect x="582" y="350" width="5" height="23" fill="#000"/>
<rect x="592" y="366" width="1" height="36" fill="#000"/>
<rect x="590" y="371" width="5" height="24" fill="#000"/>
<rect x="600" y="375" width="1" height="58" fill="#000"/>
<rect x="598" y="396" width="5" height="23" fill="#000"/>
<rect x="608" y="411" width="1" height="50" fill="#000"/>
<rect x="606" y="417" width="5" height="1" fill="#000"/>
<rect x="616" y="403" width="1" height="26" fill="#000"/>
<rect x="614" y="418" width="5" height="8" fill="#000"/>
<rect x="624" y="429" width="1" height="24" fill="#000"/>
<rect x="622" y="429" width="5" height="20" fill="#000"/>
<rect x="632" y="408" width="1" height="50" fill="#000"/>
<rect x="630" y="419" width="5" height="27" fill="#000"/>
<rect x="631" y="420" width="3" height="25" fill="#fff"/>
<rect x="640" y="400" width="1" height="79" fill="#000"/>
<rect x="638" y="417" width="5" height="54" fill="#000"/>
<rect x="648" y="447" width="1" height="42" fill="#000"/>
<rect x="646" y="462" width="5" height="8" fill="#000"/>
<rect x="647" y="463" width="3" height="6" fill="#fff"/>
<rect x="656" y="447" width="1" height="55" fill="#000"/>
<rect x="654" y="463" width="5" height="32" fill="#000"/>
<rect x="664" y="481" width="1" height="21" fill="#000"/>
<rect x="662" y="486" width="5" height="8" fill="#000"/>
<rect x="663" y="487" width="3" height="6" fill="#fff"/>
<rect x="672" y="456" width="1" height="25" fill="#000"/>
<rect x="670" y="456" width="5" height="20" fill="#000"/>
<rect x="671" y="457" width="3" height="18" fill="#fff"/>
<rect x="680" y="429" width="1" height="39" fill="#000"/>
<rect x="678" y="449" width="5" height="7" fill="#000"/>
<rect x="679" y="450" width="3" height="5" fill="#fff"/>
<rect x="688" y="439" width="1" height="63" fill="#000"/>
<rect x="686" y="450" width="5" height="34" fill="#000"/>
<rect x="696" y="351" width="1" height="148" fill="#000"/>
<rect x="694" y="369" width="5" height="114" fill="#000"/>
<rect x="695" y="370" width="3" height="112" fill="#fff"/>
<rect x="704" y="352" width="1" height="38" fill="#000"/>
<rect x="702" y="360" width="5" height="12" fill="#000"/>
<rect x="703" y="361" width="3" height="10" fill="#fff"/>
<rect x="712" y="349" width="1" height="19" fill="#000"/>
<rect x="710" y="349" width="5" height="12" fill="#000"/>
<rect x="711" y="350" width="3" height="10" fill="#fff"/>
<rect x="720" y="351" width="1" height="29" fill="#000"/>
<rect x="718" y="351" width="5" height="21" fill="#000"/>
<rect x="728" y="371" width="1" height="38" fill="#000"/>
<rect x="726" y="373" width="5" height="20" fill="#000"/>
<rect x="736" y="378" width="1" height="69" fill="#000"/>
<rect x="734" y="392" width="5" height="55" fill="#000"/>
<rect x="744" y="440" width="1" height="66" fill="#000"/>
<rect x="742" y="445" width="5" height="54" fill="#000"/>
<rect x="752" y="494" width="1" height="40" fill="#000"/>
<rect x="750" y="499" width="5" height="15" fill="#000"/>
<rect x="760" y="497" width="1" height="36" fill="#000"/>
<rect x="758" y="513" width="5" height="19" fill="#000"/>
<rect x="768" y="498" width="1" height="33" fill="#000"/>
<rect x="766" y="503" width="5" height="28" fill="#000"/>
<rect x="767" y="504" width="3" height="26" fill="#fff"/>
<rect x="776" y="452" width="1" height="64" fill="#000"/>
<rect x="774" y="472" width="5" height="25" fill="#000"/>
<rect x="775" y="473" width="3" height="23" fill="#fff"/>
<rect x="784" y="425" width="1" height="94" fill="#000"/>
<rect x="782" y="470" width="5" height="37" fill="#000"/>
<rect x="792" y="425" width="1" height="84" fill="#000"/>
<rect x="790" y="467" width="5" height="41" fill="#000"/>
<rect x="791" y="468" width="3" height="39" fill="#fff"/>
<rect x="800" y="460" width="1" height="47" fill="#000"/>
<rect x="798" y="468" width="5" height="9" fill="#000"/>
<rect x="808" y="463" width="1" height="16" fill="#000"/>
<rect x="806" y="474" width="5" height="1" fill="#000"/>
<rect x="816" y="463" width="1" height="19" fill="#000"/>
<rect x="814" y="464" width="5" height="14" fill="#000"/>
<rect x="824" y="438" width="1" height="46" fill="#000"/>
<rect x="822" y="446" width="5" height="31" fill="#000"/>
<rect x="823" y="447" width="3" height="29" fill="#fff"/>
<rect x="832" y="414" width="1" height="48" fill="#000"/>
<rect x="830" y="421" width="5" height="27" fill="#000"/>
<rect x="831" y="422" width="3" height="25" fill="#fff"/>
<rect x="840" y="398" width="1" height="48" fill="#000"/>
<rect x="838" y="404" width="5" height="17" fill="#000"/>
<rect x="839" y="405" width="3" height="15" fill="#fff"/>
<rect x="848" y="396" width="1" height="22" fill="#000"/>
<rect x="846" y="404" width="5" height="8" fill="#000"/>
<rect x="856" y="399" width="1" height="13" fill="#000"/>
<rect x="854" y="402" width="5" height="10" fill="#000"/>
<rect x="855" y="403" width="3" height="8" fill="#fff"/>
<rect x="864" y="379" width="1" height="16" fill="#000"/>
<rect x="862" y="385" width="5" height="10" fill="#000"/>
<rect x="872" y="390" width="1" height="39" fill="#000"/>
<rect x="870" y="401" width="5" height="13" fill="#000"/>
<rect x="880" y="378" width="1" height="37" fill="#000"/>
<rect x="878" y="383" width="5" height="29" fill="#000"/>
<rect x="879" y="384" width="3" height="27" fill="#fff"/>
<rect x="888" y="371" width="1" height="19" fill="#000"/>
<rect x="886" y="380" width="5" height="3" fill="#000"/>
<rect x="887" y="381" width="3" height="1" fill="#fff"/>
<rect x="896" y="373" width="1" height="12" fill="#000"/>
<rect x="894" y="379" width="5" height="1" fill="#000"/>
<rect x="904" y="378" width="1" height="6" fill="#000"/>
<rect x="902" y="380" width="5" height="4" fill="#000"/>
<rect x="912" y="382" width="1" height="15" fill="#000"/>
<rect x="910" y="382" width="5" height="13" fill="#000"/>
<rect x="920" y="375" width="1" height="29" fill="#000"/>
<rect x="918" y="382" width="5" height="15" fill="#000"/>
<rect x="919" y="383" width="3" height="13" fill="#fff"/>
<rect x="928" y="375" width="1" height="22" fill="#000"/>
<rect x="926" y="380" width="5" height="13" fill="#000"/>
<rect x="936" y="390" width="1" height="39" fill="#000"/>
<rect x="934" y="392" width="5" height="15" fill="#000"/>
<rect x="944" y="397" width="1" height="24" fill="#000"/>
<rect x="942" y="406" width="5" height="8" fill="#000"/>
<rect x="952" y="411" width="1" height="22" fill="#000"/>
<rect x="950" y="411" width="5" height="22" fill="#000"/>
<rect x="960" y="424" width="1" height="9" fill="#000"/>
<rect x="958" y="430" width="5" height="1" fill="#000"/>
<rect x="968" y="392" width="1" height="40" fill="#000"/>
<rect x="966" y="397" width="5" height="32" fill="#000"/>
<rect x="967" y="398" width="3" height="30" fill="#fff"/>
<rect x="976" y="371" width="1" height="31" fill="#000"/>
<rect x="974" y="375" width="5" height="20" fill="#000"/>
<rect x="975" y="376" width="3" height="18" fill="#fff"/>
<rect x="984" y="366" width="1" height="13" fill="#000"/>
<rect x="982" y="374" width="5" height="1" fill="#000"/>
<rect x="992" y="358" width="1" height="20" fill="#000"/>
<rect x="990" y="374" width="5" height="2" fill="#000"/>
<rect x="1000" y="362" width="1" height="14" fill="#000"/>
<rect x="998" y="362" width="5" height="12" fill="#000"/>
<rect x="999" y="363" width="3" height="10" fill="#fff"/>
<rect x="1008" y="352" width="1" height="15" fill="#000"/>
<rect x="1006" y="355" width="5" height="11" fill="#000"/>
<rect x="1016" y="359" width="1" height="44" fill="#000"/>
<rect x="1014" y="366" width="5" height="34" fill="#000"/>
<rect x="1024" y="373" width="1" height="36" fill="#000"/>
<rect x="1022" y="397" width="5" height="3" fill="#000"/>
<rect x="1032" y="371" width="1" height="43" fill="#000"/>
<rect x="1030" y="398" width="5" height="10" fill="#000"/>
<rect x="1040" y="385" width="1" height="29" fill="#000"/>
<rect x="1038" y="389" width="5" height="20" fill="#000"/>
<rect x="1039" y="390" width="3" height="18" fill="#fff"/>
<rect x="1048" y="385" width="1" height="12" fill="#000"/>
<rect x="1046" y="390" width="5" height="6" fill="#000"/>
<rect x="1056" y="390" width="1" height="12" fill="#000"/>
<rect x="1054" y="392" width="5" height="6" fill="#000"/>
<rect x="1055" y="393" width="3" height="4" fill="#fff"/>
<rect x="1064" y="368" width="1" height="32" fill="#000"/>
<rect x="1062" y="375" width="5" height="23" fill="#000"/>
<rect x="1063" y="376" width="3" height="21" fill="#fff"/>
<rect x="1072" y="358" width="1" height="22" fill="#000"/>
<rect x="1070" y="373" width="5" height="4" fill="#000"/>
<rect x="1080" y="369" width="1" height="54" fill="#000"/>
<rect x="1078" y="377" width="5" height="16" fill="#000"/>
<rect x="1088" y="393" width="1" height="113" fill="#000"/>
<rect x="1086" y="394" width="5" height="111" fill="#000"/>
<rect x="1096" y="494" width="1" height="30" fill="#000"/>
<rect x="1094" y="506" width="5" height="3" fill="#000"/>
<rect x="1104" y="520" width="1" height="38" fill="#000"/>
<rect x="1102" y="530" width="5" height="19" fill="#000"/>
<rect x="1103" y="531" width="3" height="17" fill="#fff"/>
<rect x="1112" y="469" width="1" height="62" fill="#000"/>
<rect x="1110" y="481" width="5" height="45" fill="#000"/>
<rect x="1111" y="482" width="3" height="43" fill="#fff"/>
<rect x="1120" y="393" width="1" height="118" fill="#000"/>
<rect x="1118" y="416" width="5" height="65" fill="#000"/>
<rect x="1119" y="417" width="3" height="63" fill="#fff"/>
<rect x="1128" y="397" width="1" height="47" fill="#000"/>
<rect x="1126" y="417" width="5" height="15" fill="#000"/>
<rect x="1136" y="403" width="1" height="34" fill="#000"/>
<rect x="1134" y="418" width="5" height="15" fill="#000"/>
<rect x="1135" y="419" width="3" height="13" fill="#fff"/>
<rect x="1144" y="407" width="1" height="18" fill="#000"/>
<rect x="1142" y="411" width="5" height="6" fill="#000"/>
<rect x="1143" y="412" width="3" height="4" fill="#fff"/>
<rect x="1152" y="413" width="1" height="21" fill="#000"/>
<rect x="1150" y="421" width="5" height="13" fill="#000"/>
<rect x="1160" y="414" width="1" height="30" fill="#000"/>
<rect x="1158" y="427" width="5" height="6" fill="#000"/>
<rect x="1159" y="428" width="3" height="4" fill="#fff"/>
<rect x="1168" y="422" width="1" height="35" fill="#000"/>
<rect x="1166" y="428" width="5" height="1" fill="#000"/>
<rect x="1176" y="404" width="1" height="29" fill="#000"/>
<rect x="1174" y="418" width="5" height="11" fill="#000"/>
<rect x="1175" y="419" width="3" height="9" fill="#fff"/>
<rect x="1184" y="417" width="1" height="33" fill="#000"/>
<rect x="1182" y="418" width="5" height="6" fill="#000"/>
<rect x="1192" y="420" width="1" height="30" fill="#000"/>
<rect x="1190" y="425" width="5" height="24" fill="#000"/>
<rect x="1200" y="431" width="1" height="9" fill="#000"/>
<rect x="1198" y="434" width="5" height="5" fill="#000"/>
<rect x="1199" y="435" width="3" height="3" fill="#fff"/>
<rect x="1208" y="422" width="1" height="24" fill="#000"/>
<rect x="1206" y="431" width="5" height="2" fill="#000"/>
<rect x="1216" y="427" width="1" height="27" fill="#000"/>
<rect x="1214" y="429" width="5" height="17" fill="#000"/>
<rect x="1224" y="434" width="1" height="40" fill="#000"/>
<rect x="1222" y="435" width="5" height="12" fill="#000"/>
<rect x="1223" y="436" width="3" height="10" fill="#fff"/>
<rect x="1232" y="421" width="1" height="21" fill="#000"/>
<rect x="1230" y="421" width="5" height="13" fill="#000"/>
<rect x="1231" y="422" width="3" height="11" fill="#fff"/>
<rect x="1240" y="414" width="1" height="15" fill="#000"/>
<rect x="1238" y="422" width="5" height="1" fill="#000"/>
<rect x="1248" y="421" width="1" height="8" fill="#000"/>
<rect x="1246" y="425" width="5" height="1" fill="#000"/>
<rect x="1256" y="420" width="1" height="42" fill="#000"/>
<rect x="1254" y="424" width="5" height="19" fill="#000"/>
<rect x="1264" y="373" width="1" height="71" fill="#000"/>
<rect x="1262" y="375" width="5" height="67" fill="#000"/>
<rect x="1263" y="376" width="3" height="65" fill="#fff"/>
<rect x="1272" y="366" width="1" height="31" fill="#000"/>
<rect x="1270" y="376" width="5" height="4" fill="#000"/>
<rect x="1280" y="358" width="1" height="22" fill="#000"/>
<rect x="1278" y="361" width="5" height="19" fill="#000"/>
<rect x="1279" y="362" width="3" height="17" fill="#fff"/>
<rect x="1288" y="359" width="1" height="10" fill="#000"/>
<rect x="1286" y="360" width="5" height="8" fill="#000"/>
<rect x="1296" y="374" width="1" height="9" fill="#000"/>
<rect x="1294" y="376" width="5" height="1" fill="#000"/>
<rect x="1304" y="355" width="1" height="29" fill="#000"/>
<rect x="1302" y="357" width="5" height="22" fill="#000"/>
<rect x="1303" y="358" width="3" height="20" fill="#fff"/>
<rect x="1312" y="340" width="1" height="36" fill="#000"/>
<rect x="1310" y="341" width="5" height="14" fill="#000"/>
<rect x="1311" y="342" width="3" height="12" fill="#fff"/>
<rect x="1320" y="340" width="1" height="27" fill="#000"/>
<rect x="1318" y="341" width="5" height="22" fill="#000"/>
<rect x="1328" y="359" width="1" height="29" fill="#000"/>
<rect x="1326" y="361" width="5" height="16" fill="#000"/>
<rect x="1336" y="366" width="1" height="17" fill="#000"/>
<rect x="1334" y="376" width="5" height="1" fill="#000"/>
<rect x="1344" y="392" width="1" height="14" fill="#000"/>
<rect x="1342" y="395" width="5" height="11" fill="#000"/>
<rect x="1343" y="396" width="3" height="9" fill="#fff"/>
<rect x="1352" y="375" width="1" height="15" fill="#000"/>
<rect x="1350" y="385" width="5" height="5" fill="#000"/>
<rect x="1351" y="386" width="3" height="3" fill="#fff"/>
<rect x="1360" y="376" width="1" height="25" fill="#000"/>
<rect x="1358" y="378" width="5" height="8" fill="#000"/>
<rect x="1359" y="379" width="3" height="6" fill="#fff"/>
<rect x="1368" y="378" width="1" height="12" fill="#000"/>
<rect x="1366" y="379" width="5" height="8" fill="#000"/>
<rect x="1376" y="385" width="1" height="31" fill="#000"/>
<rect x="1374" y="385" width="5" height="19" fill="#000"/>
<rect x="1384" y="402" width="1" height="4" fill="#000"/>
<rect x="1382" y="402" width="5" height="4" fill="#000"/>
</g>
<g shape-rendering="crispEdges">
<rect x="-1" y="339" width="6" height="6" fill="#ff0000"/><rect x="1" y="341" width="2" height="2" fill="#fff"/>
<rect x="1622" y="339" width="6" height="6" fill="#ff0000"/><rect x="1624" y="341" width="2" height="2" fill="#fff"/>
<rect x="1628" y="341" width="2" height="2" fill="#ff0000"/>
<rect x="-1" y="360" width="6" height="6" fill="#ff0000"/><rect x="1" y="362" width="2" height="2" fill="#fff"/>
<rect x="1622" y="360" width="6" height="6" fill="#ff0000"/><rect x="1624" y="362" width="2" height="2" fill="#fff"/>
<rect x="1628" y="362" width="2" height="2" fill="#ff0000"/>
<rect x="-1" y="383" width="6" height="6" fill="#22c322"/><rect x="1" y="385" width="2" height="2" fill="#fff"/>
<rect x="1622" y="383" width="6" height="6" fill="#22c322"/><rect x="1624" y="385" width="2" height="2" fill="#fff"/>
<rect x="1628" y="385" width="2" height="2" fill="#22c322"/>
<rect x="-1" y="431" width="6" height="6" fill="#0000ff"/><rect x="1" y="433" width="2" height="2" fill="#fff"/>
<rect x="1622" y="431" width="6" height="6" fill="#0000ff"/><rect x="1624" y="433" width="2" height="2" fill="#fff"/>
<rect x="1628" y="433" width="2" height="2" fill="#0000ff"/>
<rect x="-1" y="459" width="6" height="6" fill="#0000ff"/><rect x="1" y="461" width="2" height="2" fill="#fff"/>
<rect x="1622" y="459" width="6" height="6" fill="#0000ff"/><rect x="1624" y="461" width="2" height="2" fill="#fff"/>
<rect x="1628" y="461" width="2" height="2" fill="#0000ff"/>
</g>
<g shape-rendering="crispEdges" fill="#c0c0c0">
<rect x="0" y="601" width="1" height="31"/>
<rect x="8" y="599" width="1" height="33"/>
<rect x="16" y="598" width="1" height="34"/>
<rect x="24" y="598" width="1" height="34"/>
<rect x="32" y="597" width="1" height="35"/>
<rect x="40" y="597" width="1" height="35"/>
<rect x="48" y="597" width="1" height="35"/>
<rect x="56" y="597" width="1" height="35"/>
<rect x="64" y="598" width="1" height="34"/>
<rect x="72" y="600" width="1" height="32"/>
<rect x="80" y="604" width="1" height="28"/>
<rect x="88" y="608" width="1" height="24"/>
<rect x="96" y="610" width="1" height="22"/>
<rect x="104" y="613" width="1" height="19"/>
<rect x="112" y="615" width="1" height="17"/>
<rect x="120" y="617" width="1" height="15"/>
<rect x="128" y="618" width="1" height="14"/>
<rect x="136" y="619" width="1" height="13"/>
<rect x="144" y="621" width="1" height="11"/>
<rect x="152" y="625" width="1" height="7"/>
<rect x="160" y="627" width="1" height="5"/>
<rect x="168" y="628" width="1" height="4"/>
<rect x="176" y="629" width="1" height="3"/>
<rect x="184" y="629" width="1" height="3"/>
<rect x="192" y="628" width="1" height="4"/>
<rect x="200" y="628" width="1" height="4"/>
<rect x="208" y="630" width="1" height="2"/>
<rect x="224" y="632" width="1" height="3"/>
<rect x="232" y="632" width="1" height="6"/>
<rect x="240" y="632" width="1" height="8"/>
<rect x="248" y="632" width="1" height="8"/>
<rect x="256" y="632" width="1" height="9"/>
<rect x="264" y="632" width="1" height="9"/>
<rect x="272" y="632" width="1" height="14"/>
<rect x="280" y="632" width="1" height="19"/>
<rect x="288" y="632" width="1" height="21"/>
<rect x="296" y="632" width="1" height="19"/>
<rect x="304" y="632" width="1" height="16"/>
<rect x="312" y="632" width="1" height="14"/>
<rect x="320" y="632" width="1" height="24"/>
<rect x="328" y="632" width="1" height="34"/>
<rect x="336" y="632" width="1" height="40"/>
<rect x="344" y="632" width="1" height="48"/>
<rect x="352" y="632" width="1" height="54"/>
<rect x="360" y="632" width="1" height="64"/>
<rect x="368" y="632" width="1" height="70"/>
<rect x="376" y="632" width="1" height="71"/>
<rect x="384" y="632" width="1" height="72"/>
<rect x="392" y="632" width="1" height="81"/>
<rect x="400" y="632" width="1" height="87"/>
<rect x="408" y="632" width="1" height="98"/>
<rect x="416" y="632" width="1" height="108"/>
<rect x="424" y="632" width="1" height="117"/>
<rect x="432" y="632" width="1" height="127"/>
<rect x="440" y="632" width="1" height="120"/>
<rect x="448" y="632" width="1" height="112"/>
<rect x="456" y="632" width="1" height="107"/>
<rect x="464" y="632" width="1" height="98"/>
<rect x="472" y="632" width="1" height="88"/>
<rect x="480" y="632" width="1" height="82"/>
<rect x="488" y="632" width="1" height="78"/>
<rect x="496" y="632" width="1" height="70"/>
<rect x="504" y="632" width="1" height="67"/>
<rect x="512" y="632" width="1" height="62"/>
<rect x="520" y="632" width="1" height="56"/>
<rect x="528" y="632" width="1" height="52"/>
<rect x="536" y="632" width="1" height="45"/>
<rect x="544" y="632" width="1" height="40"/>
<rect x="552" y="632" width="1" height="34"/>
<rect x="560" y="632" width="1" height="26"/>
<rect x="568" y="632" width="1" height="19"/>
<rect x="576" y="632" width="1" height="14"/>
<rect x="584" y="632" width="1" height="11"/>
<rect x="592" y="632" width="1" height="12"/>
<rect x="600" y="632" width="1" height="15"/>
<rect x="608" y="632" width="1" height="18"/>
<rect x="616" y="632" width="1" height="19"/>
<rect x="624" y="632" width="1" height="24"/>
<rect x="632" y="632" width="1" height="23"/>
<rect x="640" y="632" width="1" height="29"/>
<rect x="648" y="632" width="1" height="32"/>
<rect x="656" y="632" width="1" height="38"/>
<rect x="664" y="632" width="1" height="41"/>
<rect x="672" y="632" width="1" height="39"/>
<rect x="680" y="632" width="1" height="37"/>
<rect x="688" y="632" width="1" height="38"/>
<rect x="696" y="632" width="1" height="26"/>
<rect x="704" y="632" width="1" height="16"/>
<rect x="712" y="632" width="1" height="6"/>
<rect x="720" y="632" width="1" height="1"/>
<rect x="728" y="632" width="1" height="1"/>
<rect x="736" y="632" width="1" height="3"/>
<rect x="744" y="632" width="1" height="13"/>
<rect x="752" y="632" width="1" height="22"/>
<rect x="760" y="632" width="1" height="29"/>
<rect x="768" y="632" width="1" height="33"/>
<rect x="776" y="632" width="1" height="32"/>
<rect x="784" y="632" width="1" height="35"/>
<rect x="792" y="632" width="1" height="31"/>
<rect x="800" y="632" width="1" height="29"/>
<rect x="808" y="632" width="1" height="28"/>
<rect x="816" y="632" width="1" height="26"/>
<rect x="824" y="632" width="1" height="22"/>
<rect x="832" y="632" width="1" height="14"/>
<rect x="840" y="632" width="1" height="8"/>
<rect x="848" y="632" width="1" height="2"/>
<rect x="856" y="631" width="1" height="1"/>
<rect x="864" y="626" width="1" height="6"/>
<rect x="872" y="625" width="1" height="7"/>
<rect x="880" y="620" width="1" height="12"/>
<rect x="888" y="616" width="1" height="16"/>
<rect x="896" y="614" width="1" height="18"/>
<rect x="904" y="612" width="1" height="20"/>
<rect x="912" y="612" width="1" height="20"/>
<rect x="920" y="611" width="1" height="21"/>
<rect x="928" y="612" width="1" height="20"/>
<rect x="936" y="614" width="1" height="18"/>
<rect x="944" y="617" width="1" height="15"/>
<rect x="952" y="622" width="1" height="10"/>
<rect x="960" y="625" width="1" height="7"/>
<rect x="968" y="624" width="1" height="8"/>
<rect x="976" y="621" width="1" height="11"/>
<rect x="984" y="619" width="1" height="13"/>
<rect x="992" y="618" width="1" height="14"/>
<rect x="1000" y="615" width="1" height="17"/>
<rect x="1008" y="613" width="1" height="19"/>
<rect x="1016" y="616" width="1" height="16"/>
<rect x="1024" y="619" width="1" height="13"/>
<rect x="1032" y="622" width="1" height="10"/>
<rect x="1040" y="622" width="1" height="10"/>
<rect x="1048" y="623" width="1" height="9"/>
<rect x="1056" y="624" width="1" height="8"/>
<rect x="1064" y="623" width="1" height="9"/>
<rect x="1072" y="622" width="1" height="10"/>
<rect x="1080" y="622" width="1" height="10"/>
<rect x="1088" y="632" width="1" height="4"/>
<rect x="1096" y="632" width="1" height="15"/>
<rect x="1104" y="632" width="1" height="26"/>
<rect x="1112" y="632" width="1" height="28"/>
<rect x="1120" y="632" width="1" height="23"/>
<rect x="1128" y="632" width="1" height="20"/>
<rect x="1136" y="632" width="1" height="17"/>
<rect x="1144" y="632" width="1" height="14"/>
<rect x="1152" y="632" width="1" height="12"/>
<rect x="1160" y="632" width="1" height="10"/>
<rect x="1168" y="632" width="1" height="9"/>
<rect x="1176" y="632" width="1" height="7"/>
<rect x="1184" y="632" width="1" height="6"/>
<rect x="1192" y="632" width="1" height="8"/>
<rect x="1200" y="632" width="1" height="7"/>
<rect x="1208" y="632" width="1" height="7"/>
<rect x="1216" y="632" width="1" height="6"/>
<rect x="1224" y="632" width="1" height="7"/>
<rect x="1232" y="632" width="1" height="5"/>
<rect x="1240" y="632" width="1" height="4"/>
<rect x="1248" y="632" width="1" height="3"/>
<rect x="1256" y="632" width="1" height="4"/>
<rect x="1264" y="631" width="1" height="1"/>
<rect x="1272" y="626" width="1" height="6"/>
<rect x="1280" y="620" width="1" height="12"/>
<rect x="1288" y="617" width="1" height="15"/>
<rect x="1296" y="615" width="1" height="17"/>
<rect x="1304" y="612" width="1" height="20"/>
<rect x="1312" y="608" width="1" height="24"/>
<rect x="1320" y="608" width="1" height="24"/>
<rect x="1328" y="609" width="1" height="23"/>
<rect x="1336" y="611" width="1" height="21"/>
<rect x="1344" y="614" width="1" height="18"/>
<rect x="1352" y="616" width="1" height="16"/>
<rect x="1360" y="616" width="1" height="16"/>
<rect x="1368" y="618" width="1" height="14"/>
<rect x="1376" y="622" width="1" height="10"/>
<rect x="1384" y="625" width="1" height="7"/>
</g>
<path d="M0.5 619.4 L8.5 615.1 L16.5 611.3 L24.5 607.6 L32.5 604.3 L40.5 601.8 L48.5 599.6 L56.5 598.1 L64.5 597.6 L72.5 597.6 L80.5 598.1 L88.5 599.3 L96.5 600.6 L104.5 602.6 L112.5 604.3 L120.5 606.3 L128.5 608.8 L136.5 611.3 L144.5 613.1 L152.5 615.6 L160.5 617.6 L168.5 619.4 L176.5 621.4 L184.5 623.1 L192.5 624.4 L200.5 625.1 L208.5 626.4 L216.5 627.1 L224.5 628.9 L232.5 630.7 L240.5 631.4 L248.5 633.2 L256.5 634.7 L264.5 636.4 L272.5 638.2 L280.5 641.4 L288.5 643.4 L296.5 645.7 L304.5 647.0 L312.5 647.2 L320.5 648.2 L328.5 651.5 L336.5 655.2 L344.5 659.0 L352.5 662.7 L360.5 667.8 L368.5 673.5 L376.5 679.0 L384.5 685.3 L392.5 690.8 L400.5 698.6 L408.5 704.6 L416.5 710.4 L424.5 717.9 L432.5 724.7 L440.5 730.5 L448.5 734.7 L456.5 738.5 L464.5 740.0 L472.5 740.0 L480.5 738.5 L488.5 735.5 L496.5 729.9 L504.5 722.9 L512.5 716.7 L520.5 710.4 L528.5 704.6 L536.5 699.1 L544.5 694.1 L552.5 688.3 L560.5 683.3 L568.5 676.5 L576.5 671.0 L584.5 666.5 L592.5 661.5 L600.5 657.7 L608.5 654.5 L616.5 652.0 L624.5 650.7 L632.5 650.2 L640.5 651.5 L648.5 653.5 L656.5 657.2 L664.5 660.2 L672.5 662.0 L680.5 664.8 L688.5 666.0 L696.5 666.0 L704.5 665.3 L712.5 662.7 L720.5 659.0 L728.5 654.7 L736.5 651.0 L744.5 647.7 L752.5 646.4 L760.5 645.7 L768.5 645.9 L776.5 647.2 L784.5 651.0 L792.5 654.0 L800.5 659.0 L808.5 659.7 L816.5 662.2 L824.5 662.2 L832.5 659.7 L840.5 658.2 L848.5 654.5 L856.5 650.2 L864.5 645.9 L872.5 642.2 L880.5 637.7 L888.5 632.2 L896.5 628.4 L904.5 624.4 L912.5 620.6 L920.5 618.1 L928.5 615.9 L936.5 614.4 L944.5 613.4 L952.5 614.4 L960.5 615.1 L968.5 615.9 L976.5 617.6 L984.5 617.6 L992.5 618.4 L1000.5 618.4 L1008.5 618.4 L1016.5 618.4 L1024.5 618.4 L1032.5 617.6 L1040.5 617.6 L1048.5 617.6 L1056.5 618.4 L1064.5 619.4 L1072.5 619.4 L1080.5 620.1 L1088.5 623.4 L1096.5 626.4 L1104.5 630.9 L1112.5 634.7 L1120.5 638.9 L1128.5 640.7 L1136.5 644.7 L1144.5 647.2 L1152.5 649.5 L1160.5 650.5 L1168.5 650.2 L1176.5 647.2 L1184.5 645.4 L1192.5 643.9 L1200.5 641.8 L1208.5 640.4 L1216.5 640.1 L1224.5 639.6 L1232.5 639.0 L1240.5 638.7 L1248.5 638.1 L1256.5 637.6 L1264.5 636.7 L1272.5 635.3 L1280.5 633.0 L1288.5 631.0 L1296.5 628.8 L1304.5 624.8 L1312.5 622.0 L1320.5 618.3 L1328.5 614.9 L1336.5 613.2 L1344.5 612.0 L1352.5 611.2 L1360.5 611.2 L1368.5 611.2 L1376.5 612.0 L1384.5 613.5" fill="none" stroke="#ff0000" stroke-width="1" stroke-dasharray="3 3" shape-rendering="crispEdges"/>
<g shape-rendering="crispEdges" stroke="#c0c0c0" stroke-dasharray="3 3">
<path d="M0 803.5H1628"/>
<path d="M0 850.5H1628"/>
<path d="M0 906.5H1628"/>
</g>
<path d="M0.5 820.2 L8.5 822.2 L16.5 830.7 L24.5 830.7 L32.5 824.7 L40.5 822.2 L48.5 820.2 L56.5 821.4 L64.5 834.0 L72.5 838.2 L80.5 844.0 L88.5 848.5 L96.5 841.5 L104.5 846.5 L112.5 846.5 L120.5 846.5 L128.5 842.2 L136.5 842.2 L144.5 848.5 L152.5 862.3 L160.5 854.5 L168.5 852.3 L176.5 849.5 L184.5 847.2 L192.5 842.2 L200.5 843.5 L208.5 857.8 L216.5 867.3 L224.5 868.3 L232.5 869.6 L240.5 865.3 L248.5 862.3 L256.5 863.3 L264.5 864.5 L272.5 885.4 L280.5 888.6 L288.5 886.1 L296.5 852.0 L304.5 849.5 L312.5 852.8 L320.5 886.1 L328.5 888.4 L336.5 884.6 L344.5 889.1 L352.5 891.6 L360.5 898.4 L368.5 892.1 L376.5 884.6 L384.5 884.6 L392.5 896.1 L400.5 896.1 L408.5 902.2 L416.5 905.4 L424.5 905.4 L432.5 909.2 L440.5 869.8 L448.5 868.3 L456.5 871.6 L464.5 865.3 L472.5 859.5 L480.5 864.0 L488.5 867.3 L496.5 858.5 L504.5 864.0 L512.5 859.5 L520.5 858.3 L528.5 860.3 L536.5 853.3 L544.5 857.3 L552.5 850.3 L560.5 847.2 L568.5 844.2 L576.5 847.2 L584.5 851.5 L592.5 856.5 L600.5 862.3 L608.5 862.3 L616.5 863.5 L624.5 869.1 L632.5 859.5 L640.5 870.3 L648.5 867.3 L656.5 873.3 L664.5 871.6 L672.5 861.5 L680.5 859.5 L688.5 867.3 L696.5 840.2 L704.5 839.0 L712.5 837.2 L720.5 841.5 L728.5 847.2 L736.5 858.5 L744.5 867.3 L752.5 870.3 L760.5 872.3 L768.5 865.3 L776.5 858.5 L784.5 864.5 L792.5 855.3 L800.5 857.3 L808.5 856.5 L816.5 857.3 L824.5 850.3 L832.5 844.0 L840.5 840.2 L848.5 842.2 L856.5 840.2 L864.5 839.5 L872.5 844.0 L880.5 837.7 L888.5 836.5 L896.5 836.5 L904.5 838.2 L912.5 842.0 L920.5 838.5 L928.5 842.0 L936.5 847.7 L944.5 850.3 L952.5 857.3 L960.5 856.0 L968.5 842.7 L976.5 837.7 L984.5 837.2 L992.5 837.2 L1000.5 833.2 L1008.5 835.2 L1016.5 850.3 L1024.5 850.3 L1032.5 853.3 L1040.5 845.2 L1048.5 848.5 L1056.5 847.2 L1064.5 840.2 L1072.5 841.5 L1080.5 849.8 L1088.5 882.1 L1096.5 882.4 L1104.5 886.1 L1112.5 867.8 L1120.5 849.8 L1128.5 852.3 L1136.5 849.0 L1144.5 847.2 L1152.5 853.3 L1160.5 851.0 L1168.5 852.3 L1176.5 849.5 L1184.5 851.0 L1192.5 858.3 L1200.5 853.5 L1208.5 852.1 L1216.5 857.2 L1224.5 852.9 L1232.5 848.7 L1240.5 848.1 L1248.5 850.1 L1256.5 856.3 L1264.5 833.9 L1272.5 836.5 L1280.5 831.1 L1288.5 833.1 L1296.5 837.3 L1304.5 832.2 L1312.5 826.8 L1320.5 837.3 L1328.5 843.0 L1336.5 843.0 L1344.5 850.1 L1352.5 845.8 L1360.5 844.4 L1368.5 847.2 L1376.5 854.3 L1384.5 855.8" fill="none" stroke="#1e90ff" stroke-width="1" shape-rendering="crispEdges"/>
<g font-family="Liberation Sans, sans-serif" font-size="9px" fill="#000" stroke="#000" stroke-width="0.25">
<g shape-rendering="crispEdges">
<rect x="1629" y="52" width="2" height="1"/>
<rect x="1629" y="85" width="2" height="1"/>
<rect x="1629" y="118" width="2" height="1"/>
<rect x="1629" y="151" width="2" height="1"/>
<rect x="1629" y="184" width="2" height="1"/>
<rect x="1629" y="217" width="2" height="1"/>
<rect x="1629" y="250" width="2" height="1"/>
<rect x="1629" y="283" width="2" height="1"/>
<rect x="1629" y="316" width="2" height="1"/>
<rect x="1629" y="349" width="2" height="1"/>
<rect x="1629" y="382" width="2" height="1"/>
<rect x="1629" y="416" width="2" height="1"/>
<rect x="1629" y="449" width="2" height="1"/>
<rect x="1629" y="482" width="2" height="1"/>
<rect x="1629" y="514" width="2" height="1"/>
<rect x="1629" y="547" width="2" height="1"/>
<rect x="1629" y="580" width="2" height="1"/>
<rect x="1629" y="587" width="1" height="1"/><rect x="1629" y="632" width="1" height="1"/><rect x="1629" y="767" width="1" height="1"/>
<rect x="1629" y="772" width="1" height="1"/><rect x="1629" y="929" width="1" height="1"/>
</g>
<text x="1634" y="55">21804.5</text>
<text x="1634" y="88">21689.0</text>
<text x="1634" y="121">21570.0</text>
<text x="1634" y="154">21451.0</text>
<text x="1634" y="187">21335.5</text>
<text x="1634" y="220">21216.5</text>
<text x="1634" y="253">21097.5</text>
<text x="1634" y="286">20982.0</text>
<text x="1634" y="319">20863.0</text>
<text x="1634" y="352">20744.0</text>
<text x="1634" y="385">20625.0</text>
<text x="1634" y="419">20509.5</text>
<text x="1634" y="452">20390.5</text>
<text x="1634" y="485">20275.0</text>
<text x="1634" y="517">20156.0</text>
<text x="1634" y="550">20037.0</text>
<text x="1634" y="583">19921.5</text>
<text x="1632" y="595.5">117.29</text>
<text x="1632" y="635.5">0.00</text>
<text x="1632" y="764.5">-349.58</text>
<text x="1632" y="780.5">100</text>
<text x="1632" y="806.5">80</text>
<text x="1632" y="853.5">50</text>
<text x="1632" y="909.5">15</text>
<text x="1632" y="926.5">0</text>
<rect x="1630" y="336" width="41" height="11" fill="#ff0000" shape-rendering="crispEdges"/>
<text x="1634" y="345" fill="#fff" stroke="#fff" stroke-width="0.12">20770.2</text>
<rect x="1630" y="357" width="41" height="11" fill="#ff0000" shape-rendering="crispEdges"/>
<text x="1634" y="366" fill="#fff" stroke="#fff" stroke-width="0.12">20695.3</text>
<rect x="1630" y="380" width="41" height="11" fill="#32c832" shape-rendering="crispEdges"/>
<text x="1634" y="389" fill="#fff" stroke="#fff" stroke-width="0.12">20613.3</text>
<rect x="1630" y="401" width="41" height="11" fill="#000" shape-rendering="crispEdges"/>
<text x="1634" y="410" fill="#fff" stroke="#fff" stroke-width="0.12">20542.5</text>
<rect x="1630" y="428" width="41" height="11" fill="#0000ff" shape-rendering="crispEdges"/>
<text x="1634" y="437" fill="#fff" stroke="#fff" stroke-width="0.12">20442.2</text>
<rect x="1630" y="456" width="41" height="11" fill="#0000ff" shape-rendering="crispEdges"/>
<text x="1634" y="465" fill="#fff" stroke="#fff" stroke-width="0.12">20342.4</text>
<rect x="0" y="931" width="1" height="3" shape-rendering="crispEdges"/>
<text x="-0.4" y="942.8">23 Jul 2019</text>
<rect x="64" y="931" width="1" height="3" shape-rendering="crispEdges"/>
<text x="63.6" y="942.8">25 Jul 04:00</text>
<rect x="128" y="931" width="1" height="3" shape-rendering="crispEdges"/>
<text x="127.6" y="942.8">26 Jul 14:55</text>
<rect x="192" y="931" width="1" height="3" shape-rendering="crispEdges"/>
<text x="191.6" y="942.8">29 Jul 23:30</text>
<rect x="256" y="931" width="1" height="3" shape-rendering="crispEdges"/>
<text x="255.6" y="942.8">31 Jul 04:00</text>
<rect x="320" y="931" width="1" height="3" shape-rendering="crispEdges"/>
<text x="319.6" y="942.8" textLength="50.2" lengthAdjust="spacing">1 Aug 14:55</text>
<rect x="384" y="931" width="1" height="3" shape-rendering="crispEdges"/>
<text x="383.6" y="942.8" textLength="50.2" lengthAdjust="spacing">4 Aug 23:30</text>
<rect x="448" y="931" width="1" height="3" shape-rendering="crispEdges"/>
<text x="447.6" y="942.8" textLength="50.2" lengthAdjust="spacing">6 Aug 04:00</text>
<rect x="512" y="931" width="1" height="3" shape-rendering="crispEdges"/>
<text x="511.6" y="942.8" textLength="50.2" lengthAdjust="spacing">7 Aug 14:55</text>
<rect x="576" y="931" width="1" height="3" shape-rendering="crispEdges"/>
<text x="575.6" y="942.8" textLength="50.2" lengthAdjust="spacing">8 Aug 23:30</text>
<rect x="640" y="931" width="1" height="3" shape-rendering="crispEdges"/>
<text x="639.6" y="942.8" textLength="54.8" lengthAdjust="spacing">12 Aug 04:00</text>
<rect x="704" y="931" width="1" height="3" shape-rendering="crispEdges"/>
<text x="703.6" y="942.8" textLength="54.8" lengthAdjust="spacing">13 Aug 14:55</text>
<rect x="768" y="931" width="1" height="3" shape-rendering="crispEdges"/>
<text x="767.6" y="942.8" textLength="54.8" lengthAdjust="spacing">14 Aug 23:30</text>
<rect x="832" y="931" width="1" height="3" shape-rendering="crispEdges"/>
<text x="831.6" y="942.8" textLength="54.8" lengthAdjust="spacing">16 Aug 04:00</text>
<rect x="896" y="931" width="1" height="3" shape-rendering="crispEdges"/>
<text x="895.6" y="942.8" textLength="54.8" lengthAdjust="spacing">19 Aug 14:55</text>
<rect x="960" y="931" width="1" height="3" shape-rendering="crispEdges"/>
<text x="959.6" y="942.8" textLength="54.8" lengthAdjust="spacing">20 Aug 23:30</text>
<rect x="1024" y="931" width="1" height="3" shape-rendering="crispEdges"/>
<text x="1023.6" y="942.8" textLength="54.8" lengthAdjust="spacing">22 Aug 04:00</text>
<rect x="1088" y="931" width="1" height="3" shape-rendering="crispEdges"/>
<text x="1087.6" y="942.8" textLength="54.8" lengthAdjust="spacing">23 Aug 14:55</text>
<rect x="1152" y="931" width="1" height="3" shape-rendering="crispEdges"/>
<text x="1151.6" y="942.8" textLength="54.8" lengthAdjust="spacing">26 Aug 23:30</text>
<rect x="1216" y="931" width="1" height="3" shape-rendering="crispEdges"/>
<text x="1215.6" y="942.8" textLength="54.8" lengthAdjust="spacing">28 Aug 04:00</text>
<rect x="1280" y="931" width="1" height="3" shape-rendering="crispEdges"/>
<text x="1279.6" y="942.8" textLength="54.8" lengthAdjust="spacing">29 Aug 14:55</text>
<rect x="1344" y="931" width="1" height="3" shape-rendering="crispEdges"/>
<text x="1343.6" y="942.8" textLength="49.6" lengthAdjust="spacing">1 Sep 23:30</text>
<text x="15" y="41.5" font-size="9.25px">JPN225-,H4&#160; 20557.5 20557.5 20540.0 20542.5</text>
<path d="M3 41 L7.5 36.5 L12 41Z" fill="#000"/>
<text x="4.5" y="597.5" font-size="9.4px">MACD(12,26,9) 21.37 45.62</text>
<text x="4.5" y="782.5" font-size="9.25px">RSI(14) 46.8384</text>
</g>
<path d="M1393 31 L1403 31 L1398 36Z" fill="#c0c0c0"/>
<rect x="1515.5" y="370.5" width="99" height="32" fill="#fff" stroke="#ff0000" stroke-width="1" shape-rendering="crispEdges"/>
<text x="1517" y="396" font-family="Liberation Sans, sans-serif" font-size="26.5px" fill="#ff0000">20613.3</text>
<path d="M1505 386.5H1515" stroke="#ff0000" shape-rendering="crispEdges"/><rect x="1511.5" y="384.5" width="3" height="4" fill="#fff" stroke="#ff0000" shape-rendering="crispEdges"/>
<text x="1412.5" y="329" font-family="Liberation Serif, 'Noto Serif CJK SC', serif" font-weight="600" font-size="32px" fill="#083808">多空转折点</text>
<text x="1413.5" y="328" font-family="Liberation Serif, 'Noto Serif CJK SC', serif" font-weight="600" font-size="32px" fill="#00fa00">多空转折点</text>
</svg>
<div id="oct">
 <div class="wbg"></div>
 <div class="pb sellp"></div><div class="pb buyp"></div>
 <div class="bt sellb"><span>SELL</span><i></i></div>
 <div class="bt buyb"><span>BUY</span><i></i></div>
 <div class="gapw"></div><div class="gapv"></div>
 <div class="vol"><div class="va l"><b class="dn"></b></div><div class="vi">1.00</div><div class="va r"><b class="up"></b></div></div>
 <div class="pr" style="left:16px"><span class="s">20541</span><span class="d">.</span><span class="g">0</span></div>
 <div class="pr" style="left:126px"><span class="s">20564</span><span class="d">.</span><span class="g">0</span></div>
</div>

<div id="edge-r"></div><div id="edge-b"></div>
</body></html>
